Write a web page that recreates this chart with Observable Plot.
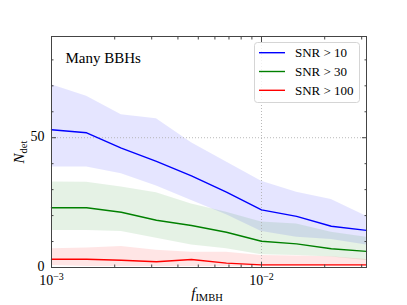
<!DOCTYPE html>
<html><head><meta charset="utf-8">
<script src="https://cdn.jsdelivr.net/npm/d3@7"></script>
<script src="https://cdn.jsdelivr.net/npm/@observablehq/plot@0.6"></script>
<style>
body{margin:0;background:#fff}
#c{position:relative;width:407px;height:305px}
</style>
</head><body><div id="c"></div>
<script>
// x values (f_IMBH)
const fIMBH = [0.001, 0.00147, 0.00215, 0.00316, 0.00464, 0.00681, 0.01, 0.0147, 0.0215, 0.0316];
// SNR > 10
const blueMid = [53.1, 51.9, 46.0, 40.9, 35.3, 29.0, 22.2, 19.7, 15.9, 14.3];
const blueHi  = [70.4, 66.0, 58.9, 57.3, 48.1, 40.6, 33.2, 29.0, 26.2, 19.7];
const blueLo  = [38.7, 38.7, 36.1, 31.4, 25.8, 20.3, 13.9, 11.7, 10.8, 8.7];
// SNR > 30
const greenMid = [23.0, 23.0, 21.3, 18.2, 16.2, 13.6, 10.1, 9.1, 7.2, 6.2];
const greenHi  = [32.9, 32.8, 31.0, 28.8, 24.5, 21.3, 17.5, 16.8, 13.6, 11.7];
const greenLo  = [14.3, 14.3, 13.9, 11.3, 8.7, 7.2, 4.9, 4.6, 4.0, 2.7];
// SNR > 100
const redMid = [3.2, 3.2, 2.8, 2.2, 3.1, 1.7, 1.0, 1.0, 1.0, 1.0];
const redHi  = [7.2, 7.5, 8.1, 6.6, 5.9, 5.9, 4.6, 4.4, 4.1, 3.1];
const redLo  = [0.8, 0.4, 0.4, 0.4, 0.4, 0.4, 0.4, 0.4, 0.4, 0.4];

const seriesNames = ["SNR > 10", "SNR > 30", "SNR > 100"];
const seriesColors = ["#0000ff", "#008000", "#ff0000"];

const xMajor = [0.001, 0.01];
const xMajorLabels = ["10^−3", "10^−2"];
const xMinor = [0.002,0.003,0.004,0.005,0.006,0.007,0.008,0.009,0.02,0.03];
const yMajor = [0, 50];
const yMinor = [10,20,30,40,60,70,80];
const xLabel = "f_IMBH";
const yLabel = "N_det";
const annotation = "Many BBHs";

const seriesData = [
  {name: seriesNames[0], color: seriesColors[0], mid: blueMid, lo: blueLo, hi: blueHi},
  {name: seriesNames[1], color: seriesColors[1], mid: greenMid, lo: greenLo, hi: greenHi},
  {name: seriesNames[2], color: seriesColors[2], mid: redMid, lo: redLo, hi: redHi}
];
const rows = seriesData.map(s => fIMBH.map((f, i) => ({f, mid: s.mid[i], lo: s.lo[i], hi: s.hi[i], name: s.name})));

const axisColor = "#444";
const font = '"Liberation Serif", "Times New Roman", serif';

const chart = Plot.plot({
  width: 407, height: 305,
  marginLeft: 51, marginRight: 41, marginTop: 36, marginBottom: 38,
  x: {type: "log", domain: [0.001, 0.0316228], axis: null},
  y: {domain: [0, 89], axis: null},
  style: {fontFamily: font, background: "white", color: "black"},
  marks: [
    ...seriesData.map((s, k) => Plot.areaY(rows[k], {x: "f", y1: "lo", y2: "hi", fill: s.color, fillOpacity: 0.1})),
    Plot.ruleY([50], {stroke: "#b0b0b0", strokeDasharray: "1,2", strokeWidth: 0.9}),
    Plot.ruleX([0.01], {stroke: "#b0b0b0", strokeDasharray: "1,2", strokeWidth: 0.9}),
    ...seriesData.map((s, k) => Plot.lineY(rows[k], {x: "f", y: "mid", stroke: s.color, strokeWidth: 1.4})),
    Plot.frame({stroke: axisColor, strokeWidth: 1}),
    Plot.axisX({anchor: "bottom", ticks: xMajor, tickSize: -5, tickFormat: () => "", label: null, stroke: axisColor}),
    Plot.axisX({anchor: "bottom", ticks: xMinor, tickSize: -2.5, tickFormat: () => "", label: null, stroke: axisColor}),
    Plot.axisX({anchor: "top", ticks: xMajor, tickSize: -5, tickFormat: () => "", label: null, stroke: axisColor}),
    Plot.axisX({anchor: "top", ticks: xMinor, tickSize: -2.5, tickFormat: () => "", label: null, stroke: axisColor}),
    Plot.axisY({anchor: "left", ticks: yMajor, tickSize: -5, tickFormat: () => "", label: null, stroke: axisColor}),
    Plot.axisY({anchor: "left", ticks: yMinor, tickSize: -2.5, tickFormat: () => "", label: null, stroke: axisColor}),
    Plot.axisY({anchor: "right", ticks: yMajor, tickSize: -5, tickFormat: () => "", label: null, stroke: axisColor}),
    Plot.axisY({anchor: "right", ticks: yMinor, tickSize: -2.5, tickFormat: () => "", label: null, stroke: axisColor}),
    Plot.text(xMajor, {x: d => d, text: (d, i) => xMajorLabels[i], frameAnchor: "bottom", dy: 13.5, fontSize: 14, textAnchor: "middle", lineAnchor: "middle", fill: "black"}),
    Plot.text(yMajor, {y: d => d, text: d => String(d), frameAnchor: "left", dx: -7, dy: -1, fontSize: 14, textAnchor: "end", lineAnchor: "middle", fill: "black"}),
    Plot.text([xLabel], {frameAnchor: "bottom", dy: 25.5, dx: -2, fontSize: 15, textAnchor: "middle", lineAnchor: "middle", fill: "black"}),
    Plot.text([yLabel], {frameAnchor: "left", dx: -32, rotate: -90, fontSize: 15, textAnchor: "middle", lineAnchor: "middle", fill: "black"}),
    Plot.text([annotation], {frameAnchor: "top-left", dx: 14, dy: 22, fontSize: 15, textAnchor: "start", lineAnchor: "middle", fill: "black"})
  ]
});

// mathtext-like formatting via tspans
d3.select(chart).selectAll("text").each(function() {
  const t = this.textContent;
  const sel = d3.select(this);
  let m = t.match(/^10\^(.+)$/);
  if (m) {
    sel.text(null);
    sel.append("tspan").text("10");
    sel.append("tspan").attr("dy", "-0.5em").attr("font-size", "10px").text(m[1]);
    return;
  }
  m = t.match(/^([A-Za-z])_(.+)$/);
  if (m) {
    sel.text(null);
    sel.append("tspan").attr("font-style", "italic").text(m[1]);
    sel.append("tspan").attr("dy", "0.3em").attr("font-size", "10.5px").text(m[2]);
  }
});

// legend
const svg = d3.select(chart);
const lg = svg.append("g").attr("font-family", font).attr("font-size", 13).attr("text-anchor", "start");
lg.append("rect").attr("x", 254.5).attr("y", 42.5).attr("width", 105).attr("height", 60).attr("rx", 3)
  .attr("fill", "white").attr("fill-opacity", 0.8).attr("stroke", "#d5d5d5");
seriesNames.forEach((n, i) => {
  const y = 52.7 + i * 18.8;
  lg.append("line").attr("x1", 259).attr("x2", 285).attr("y1", y).attr("y2", y)
    .attr("stroke", seriesColors[i]).attr("stroke-width", 1.4);
  lg.append("text").attr("x", 295).attr("y", y).attr("dy", "0.33em").attr("text-anchor", "start").attr("fill", "black").text(n);
});

document.getElementById("c").appendChild(chart);
</script>
</body></html>
